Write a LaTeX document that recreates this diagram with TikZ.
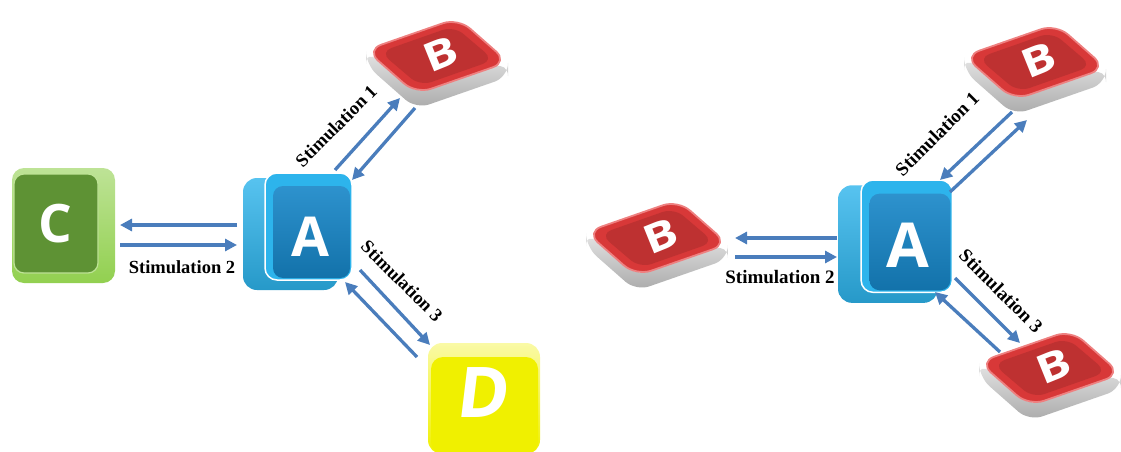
\documentclass[tikz,border=0pt]{standalone}
\usepackage{fontspec}
\setmainfont{Liberation Serif}
\newfontfamily\keyfont{Open Sans}
\usetikzlibrary{arrows.meta}

\definecolor{arrowblue}{HTML}{4A7DBC}
\definecolor{keycyan}{HTML}{2DB4EC}
\definecolor{keyblue}{HTML}{1686C8}
\definecolor{cface}{HTML}{5E9234}
\definecolor{cside}{HTML}{92D050}
\definecolor{dyellow}{HTML}{F0F000}
\definecolor{redface}{HTML}{D83838}
\definecolor{redrim}{HTML}{EE8080}
\definecolor{slabgray}{HTML}{BDBDBD}

\begin{document}
\begin{tikzpicture}[x=1pt,y=-1pt,
    stim/.style={draw=arrowblue,line width=3.3pt,-{Triangle[length=12pt,width=12pt]}},
    stimtext/.style={text=black,font=\bfseries\fontsize{18.5}{20}\selectfont,inner sep=0pt},
    stimbig/.style={stimtext,font=\bfseries\fontsize{19}{21}\selectfont},
    keyletter/.style={text=white,font=\keyfont\bfseries\fontsize{#1}{#1}\selectfont,inner sep=0pt},
    btile/.pic={
        \shade[top color=slabgray!40,bottom color=slabgray!90!black,rounded corners=14pt]
            (-71,-6) -- (-71,9) -- (-21,53) -- (71,21) -- (71,6) -- (-21,38) -- cycle;
        \draw[fill=redface,draw=redrim,line width=1.8pt,rounded corners=16pt]
            (-71,-6) -- (21,-38) -- (71,6) -- (-21,38) -- cycle;
        \fill[redface!88!black,rounded corners=12pt]
            (-57,-4) -- (17,-30) -- (57,4) -- (-17,30) -- cycle;
    },
    akey/.pic={
        \shade[top color=keycyan!80!white,bottom color=keycyan!85!black,rounded corners=14pt]
            (0,5) rectangle (95,117);
        \draw[fill=keycyan,draw=white,line width=1.5pt,rounded corners=12pt]
            (22,0) rectangle (109,107);
        \shade[top color=keyblue!90!white,bottom color=keyblue!85!black,rounded corners=10pt]
            (30,13) rectangle (107,105);
    }]
\useasboundingbox (0,0) rectangle (1121,452);

% left: A with the keys B, C and D
\pic at (437,56) {btile};
\node[keyletter=50,rotate=22,yscale=.8] (b1) at (441,54) {B};

\shade[top color=cside!60!white,bottom color=cside,rounded corners=12pt] (12,168) rectangle (115,283);
\draw[fill=cface,draw=cside!60!white,line width=1.2pt,rounded corners=10pt] (14,174) rectangle (98,273);
\node[keyletter=53] (c) at (55,224) {C};

\shade[top color=dyellow!35!white,bottom color=dyellow,rounded corners=14pt] (428,343) rectangle (540,454);
\fill[dyellow,rounded corners=12pt] (431,357) rectangle (538,454);
\node[keyletter=70,xslant=.12] (d) at (484,393) {D};

\pic at (243,173) {akey};
\node[keyletter=55] (a1) at (310,237) {A};

\coordinate (l1a) at (335,170); \coordinate (l1b) at (400,98);
\coordinate (l1c) at (415,108); \coordinate (l1d) at (352,180);
\coordinate (l2a) at (237,225); \coordinate (l2b) at (120,225);
\coordinate (l2c) at (120,245); \coordinate (l2d) at (237,245);
\coordinate (l3a) at (360,270); \coordinate (l3b) at (430,345);
\coordinate (l3c) at (417,357); \coordinate (l3d) at (345,282);
\draw[stim] (l1a) -- (l1b);
\draw[stim] (l1c) -- (l1d);
\draw[stim] (l2a) -- (l2b);
\draw[stim] (l2c) -- (l2d);
\draw[stim] (l3a) -- (l3b);
\draw[stim] (l3c) -- (l3d);
\node[stimtext,rotate=45] (l1t) at (336,126) {Stimulation 1};
\node[stimtext] (l2t) at (182,267) {Stimulation 2};
\node[stimtext,rotate=-45] (l3t) at (402,281) {Stimulation 3};

% right: A with three keys B
\pic at (1035,62) {btile};
\node[keyletter=50,rotate=22,yscale=.8] (b2) at (1039,60) {B};
\pic at (657,238) {btile};
\node[keyletter=50,rotate=22,yscale=.8] (b3) at (661,236) {B};
\pic at (1050,368) {btile};
\node[keyletter=50,rotate=22,yscale=.8] (b4) at (1054,366) {B};

\pic[scale=1.05] at (838,180) {akey};
\node[keyletter=62] (a2) at (908,245) {A};

\coordinate (r1a) at (1012,112); \coordinate (r1b) at (940,180);
\coordinate (r1c) at (950,192); \coordinate (r1d) at (1027,120);
\coordinate (r2a) at (837,238); \coordinate (r2b) at (735,238);
\coordinate (r2c) at (735,257); \coordinate (r2d) at (837,257);
\coordinate (r3a) at (955,278); \coordinate (r3b) at (1020,343);
\coordinate (r3c) at (1000,352); \coordinate (r3d) at (935,292);
\draw[stim] (r1a) -- (r1b);
\draw[stim] (r1c) -- (r1d);
\draw[stim] (r2a) -- (r2b);
\draw[stim] (r2c) -- (r2d);
\draw[stim] (r3a) -- (r3b);
\draw[stim] (r3c) -- (r3d);
\node[stimbig,rotate=45] (r1t) at (937,134) {Stimulation 1};
\node[stimbig] (r2t) at (780,277) {Stimulation 2};
\node[stimbig,rotate=-45] (r3t) at (1001,291) {Stimulation 3};
\end{tikzpicture}
\end{document}
